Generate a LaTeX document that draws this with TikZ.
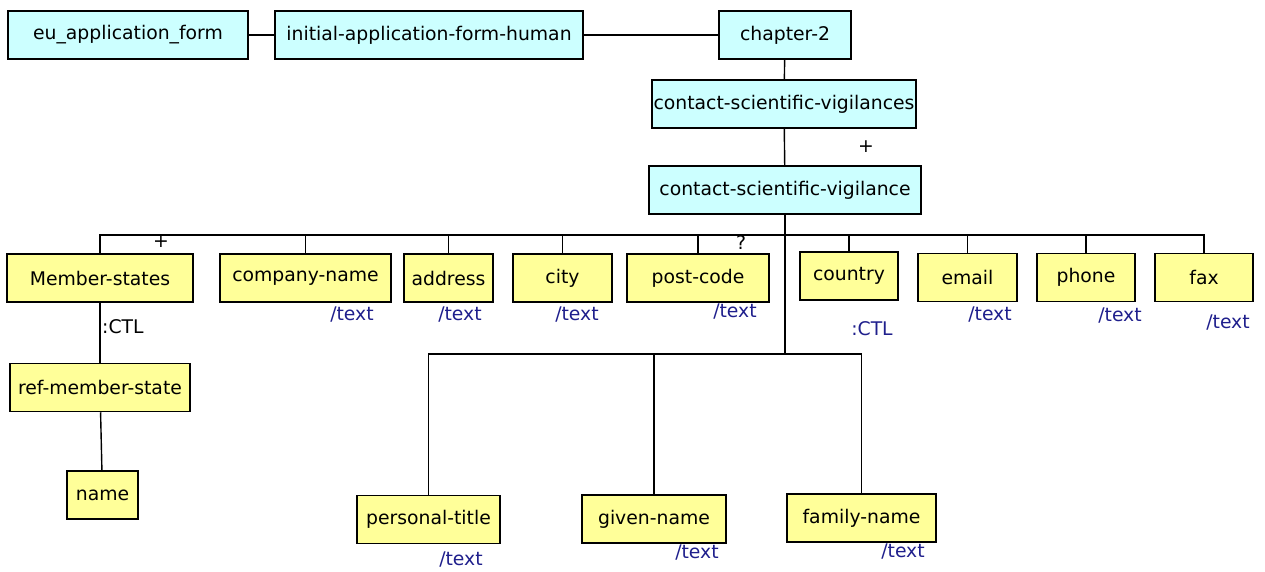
\documentclass[tikz,border=0pt]{standalone}
\usepackage{fontspec}
\setmainfont{DejaVu Sans}
\usetikzlibrary{positioning}
\definecolor{c}{HTML}{CCFFFF}
\definecolor{y}{HTML}{FFFF99}
\definecolor{n}{HTML}{1F1F8C}

\begin{document}
\begin{tikzpicture}[x=1pt,y=-1pt,font=\fontsize{18.8}{21}\selectfont,
  elem/.style={draw,line width=1.5pt,fill=y,minimum height=48pt,inner sep=1pt},
  group/.style={elem,fill=c},
  link/.style={draw,line width=1.4pt},
  trunk/.style={draw,line width=2.4pt},
  card/.style={inner sep=0pt},
  tx/.style={card,text=n}]
  \useasboundingbox (0,0) rectangle (1265,571);
  % top chain
  \node[group,minimum width=240pt] (euform) at (128,35) {eu\_application\_form};
  \node[group,minimum width=308pt] (initial) at (429,35) {initial-application-form-human};
  \node[group,minimum width=132pt] (chapter) at (785,35) {chapter-2};
  \node[group,minimum width=264pt] (csvs) at (784,104) {contact-scientific-vigilances};
  \node[group,minimum width=272pt] (csv) at (785,190) {contact-scientific-vigilance};
  % children
  \node[elem,minimum width=186pt] (mstates) at (100,278) {Member-states};
  \node[elem,minimum width=171pt] (company) at (305.5,278) {company-name};
  \node[elem,minimum width=89pt] (address) at (448.5,278) {address};
  \node[elem,minimum width=99pt] (city) at (562.5,278) {city};
  \node[elem,minimum width=142pt] (postcode) at (698,278) {post-code};
  \node[elem,minimum width=98pt] (country) at (849,276) {country};
  \node[elem,minimum width=99pt] (email) at (967.5,277.5) {email};
  \node[elem,minimum width=98pt] (phone) at (1086,277.5) {phone};
  \node[elem,minimum width=98pt] (fax) at (1204,277.5) {fax};
  \node[elem,minimum width=180pt] (refms) at (100,387.5) {ref-member-state};
  \node[elem,minimum width=71pt] (name) at (102.5,495) {name};
  \node[elem,minimum width=143pt] (ptitle) at (428.5,519.5) {personal-title};
  \node[elem,minimum width=144pt] (given) at (654,519) {given-name};
  \node[elem,minimum width=149pt] (family) at (861.5,518) {family-name};
  % connectors
  \coordinate (bus) at (785,235);
  \coordinate (sub) at (785,354);
  \draw[link] (euform) -- (initial);
  \draw[link] (initial) -- (chapter);
  \draw[link] (chapter) -- (csvs);
  \draw[link] (csvs) -- (csv);
  \draw[trunk] (csv) -- (sub);
  \foreach \k in {mstates,company,address,city,postcode,country,email,phone,fax}
    \draw[link] (\k.north) |- (bus);
  \foreach \k in {ptitle,given,family}
    \draw[link] (\k.north) |- (sub);
  \draw[link] (mstates) -- (refms);
  \draw[link] (refms) -- (name);
  % labels
  \node[card] (plusa) at (866,147) {+};
  \node[card] (plusb) at (161,242) {+};
  \node[card] (opt) at (741,243) {?};
  \node[card,anchor=west] (ctla) at (102,327) {:CTL};
  \node[tx] (ctlb) at (872,329) {:CTL};
  \foreach \k/\x/\y in {company/352/315,address/460/315,city/577/315,
      postcode/735/312,email/990/315,phone/1120/316,fax/1228/323,
      ptitle/461/560,given/697/553,family/903/552}
    \node[tx] (\k-txt) at (\x,\y) {/text};
\end{tikzpicture}
\end{document}
